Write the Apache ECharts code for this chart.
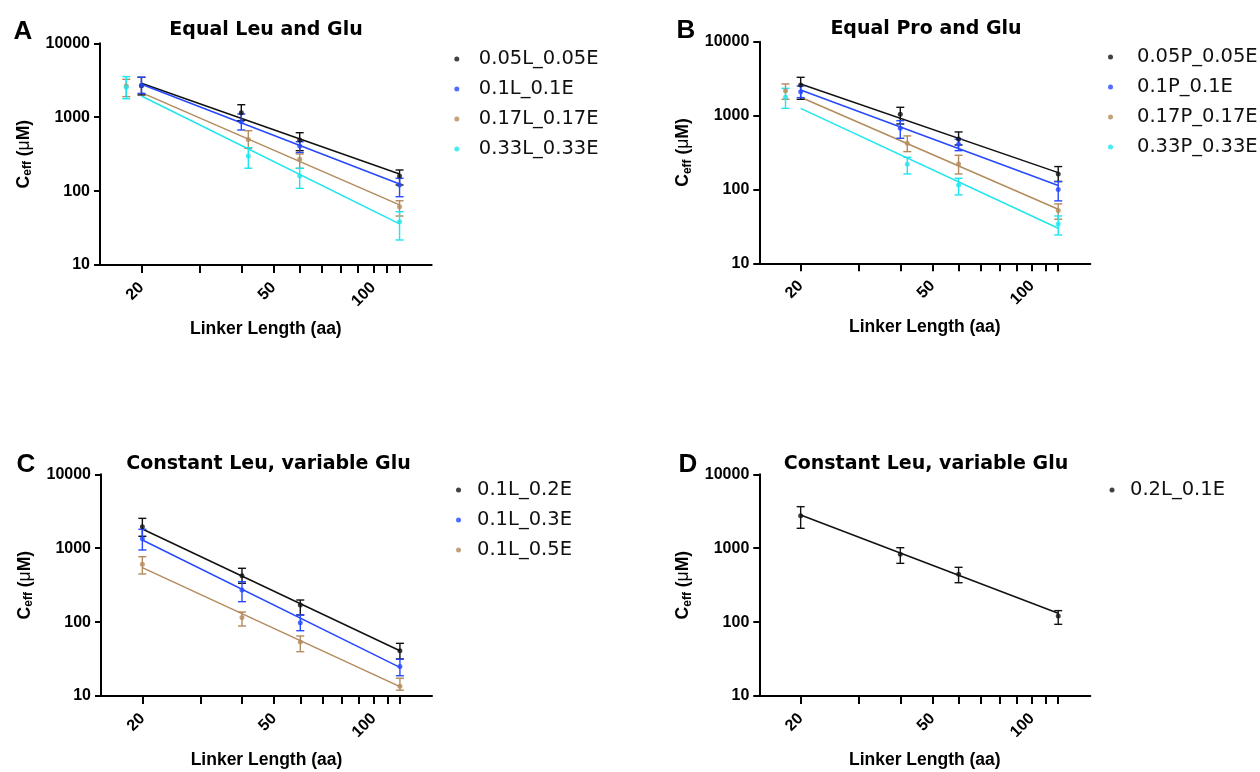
<!DOCTYPE html>
<html>
<head>
<meta charset="utf-8">
<script src="https://cdn.jsdelivr.net/npm/echarts@6/dist/echarts.min.js"></script>
<style>html,body{margin:0;padding:0;background:#fff;}#c{width:1260px;height:772px;}</style>
</head>
<body>
<div id="c"></div>
<script>
// ---------- DATA ----------
const xTicks = [20, 30, 40, 50, 60, 70, 80, 90, 100, 110, 120];
const xLabels = [20, 50, 100];
const fitX = [20, 120];

// Panel A: Equal Leu and Glu
const aNames = ['0.05L_0.05E', '0.1L_0.1E', '0.17L_0.17E', '0.33L_0.33E'];
const aX = [[20, 40, 60, 120], [20, 40, 60, 120], [18, 42, 60, 120], [18, 42, 60, 120]];
const aMean = [[2667, 1151, 491, 160], [2700, 870, 407, 121], [2643, 501, 269, 61.5], [2535, 298, 160, 38.5]];
const aHigh = [[3467, 1476, 617, 193], [3470, 1105, 466, 149], [3258, 656, 318, 74], [3545, 387, 204, 52.6]];
const aLow = [[2000, 898, 352, 121], [2100, 671, 331, 84], [1897, 379, 203, 46], [1778, 204, 109, 21.8]];
const aFitStart = [2877, 2786, 2148, 1936];
const aFitEnd = [170, 125, 65, 36];

// Panel B: Equal Pro and Glu
const bNames = ['0.05P_0.05E', '0.1P_0.1E', '0.17P_0.17E', '0.33P_0.33E'];
const bX = [[20, 40, 60, 120], [20, 40, 60, 120], [18, 42, 60, 120], [18, 42, 60, 120]];
const bMean = [[2594, 1040, 482, 162], [2105, 673, 409, 100], [2173, 422, 221, 51.7], [1768, 219, 115, 34]];
const bHigh = [[3296, 1294, 600, 204], [2512, 853, 478, 128], [2679, 530, 290, 63.7], [2340, 272, 141.6, 43.7]];
const bLow = [[1660, 769, 400, 128], [1750, 493, 335, 70], [1660, 325, 162, 39.5], [1253, 162, 84.3, 24.2]];
const bFitStart = [2679, 2220, 1768, 1253];
const bFitEnd = [169, 113, 54, 29.8];

// Panel C: Constant Leu, variable Glu
const cNames = ['0.1L_0.2E', '0.1L_0.3E', '0.1L_0.5E'];
const cX = [[20, 40, 60, 120], [20, 40, 60, 120], [20, 40, 60, 120]];
const cMean = [[1954, 425, 170, 41], [1345, 272, 98, 25], [605, 115, 53.8, 13.6]];
const cHigh = [[2535, 535, 199, 51.6], [1803, 352, 125, 31.4], [767, 137, 64.9, 17.4]];
const cLow = [[1450, 335, 125, 31.7], [946, 189, 76.5, 18.8], [448, 88.5, 39.8, 12]];
const cFitStart = [1820, 1291, 545];
const cFitEnd = [41, 24.4, 13.4];

// Panel D: Constant Leu, variable Glu
const dNames = ['0.2L_0.1E'];
const dX = [[20, 40, 60, 120]];
const dMean = [[2754, 826, 444, 121]];
const dHigh = [[3648, 1016, 551, 143]];
const dLow = [[1859, 624, 341, 93.3]];
const dFitStart = [2812];
const dFitEnd = [131.5];

const colors = ['#111111', '#2648ff', '#b38b5d', '#1de6ee'];
const panelTitles = ['Equal Leu and Glu', 'Equal Pro and Glu', 'Constant Leu, variable Glu', 'Constant Leu, variable Glu'];
const panelLetters = ['A', 'B', 'C', 'D'];

// ---------- LAYOUT ----------
const grids = [
  {left: 100, top: 43.3, width: 331.7, height: 221.7},
  {left: 759.3, top: 41.7, width: 331, height: 221.6},
  {left: 101, top: 474.3, width: 331, height: 221.7},
  {left: 759.3, top: 474.3, width: 331, height: 221.7}
];
const titlePos = [[261, 16], [921, 14.5], [263.5, 449.5], [921, 449.5]];
const letterPos = [[18, 14], [681, 13], [21, 447], [683, 447]];
const legendPos = [[454.3, 44, 34], [1108, 42, 43], [456, 475, 27], [1109.5, 475, 26]];

const panels = [
  {names: aNames, x: aX, mean: aMean, high: aHigh, low: aLow, fs: aFitStart, fe: aFitEnd},
  {names: bNames, x: bX, mean: bMean, high: bHigh, low: bLow, fs: bFitStart, fe: bFitEnd},
  {names: cNames, x: cX, mean: cMean, high: cHigh, low: cLow, fs: cFitStart, fe: cFitEnd},
  {names: dNames, x: dX, mean: dMean, high: dHigh, low: dLow, fs: dFitStart, fe: dFitEnd}
];

const axisFont = '"Liberation Sans", Arial, sans-serif';

function errRender(params, api) {
  const x = api.value(0), lo = api.value(1), hi = api.value(2);
  const p1 = api.coord([x, lo]);
  const p2 = api.coord([x, hi]);
  const w = 4;
  const style = {stroke: api.visual('color'), lineWidth: 1.4};
  return {
    type: 'group',
    children: [
      {type: 'line', shape: {x1: p1[0], y1: p1[1], x2: p2[0], y2: p2[1]}, style: style},
      {type: 'line', shape: {x1: p1[0] - w, y1: p1[1], x2: p1[0] + w, y2: p1[1]}, style: style},
      {type: 'line', shape: {x1: p2[0] - w, y1: p2[1], x2: p2[0] + w, y2: p2[1]}, style: style}
    ]
  };
}

const option = {
  animation: false,
  backgroundColor: '#ffffff',
  title: [],
  legend: [],
  grid: [],
  xAxis: [],
  yAxis: [],
  series: []
};

panels.forEach(function (p, gi) {
  option.grid.push(Object.assign({containLabel: false}, grids[gi]));
  option.title.push({
    text: panelTitles[gi], left: titlePos[gi][0], top: titlePos[gi][1], textAlign: 'center',
    textStyle: {fontFamily: '"DejaVu Sans", sans-serif', fontWeight: 'bold', fontSize: 19, color: '#000'}
  });
  option.title.push({
    text: panelLetters[gi], left: letterPos[gi][0], top: letterPos[gi][1], textAlign: 'center',
    textStyle: {fontFamily: axisFont, fontWeight: 'bold', fontSize: 26, color: '#000'}
  });
  option.legend.push({
    orient: 'vertical', left: legendPos[gi][0], top: legendPos[gi][1], padding: 0,
    itemWidth: legendPos[gi][2], itemHeight: 5, itemGap: 0, selectedMode: false,
    data: p.names.map(function (n) { return {name: n, icon: 'circle'}; }),
    textStyle: {fontFamily: '"DejaVu Sans", sans-serif', fontSize: 19.5, color: '#111', lineHeight: 30}
  });
  option.xAxis.push({
    type: 'log', logBase: 10, gridIndex: gi, min: 15, max: 150,
    name: 'Linker Length (aa)', nameLocation: 'middle', nameGap: 55,
    nameTextStyle: {fontFamily: axisFont, fontWeight: 'bold', fontSize: 17.5, color: '#000'},
    axisLine: {lineStyle: {color: '#000', width: 2}},
    axisTick: {customValues: xTicks, length: 8, lineStyle: {color: '#000', width: 2}},
    axisLabel: {customValues: xLabels, rotate: 45, margin: 20, fontFamily: axisFont, fontWeight: 'bold', fontSize: 16, color: '#000',
      formatter: function (v) { return String(v); }},
    splitLine: {show: false}
  });
  option.yAxis.push({
    type: 'log', logBase: 10, gridIndex: gi, min: 10, max: 10000,
    name: '{a|C}{b|eff}{a| (}{m|μ}{a|M)}', nameLocation: 'middle', nameGap: 66, nameRotate: 90,
    nameTextStyle: {
      rich: {
        a: {fontFamily: axisFont, fontWeight: 'bold', fontSize: 17.5, color: '#000'},
        b: {fontFamily: axisFont, fontWeight: 'bold', fontSize: 12, color: '#000', padding: [8, 0, 0, 0]},
        m: {fontFamily: axisFont, fontWeight: 'normal', fontSize: 17.5, color: '#000'}
      }
    },
    axisLine: {lineStyle: {color: '#000', width: 2}},
    axisTick: {length: 6, lineStyle: {color: '#000', width: 2}},
    axisLabel: {margin: 10, fontFamily: axisFont, fontWeight: 'bold', fontSize: 16, color: '#000',
      formatter: function (v) { return String(v); }},
    splitLine: {show: false}
  });
  p.names.forEach(function (name, si) {
    const col = colors[si];
    option.series.push({
      type: 'scatter', name: name, xAxisIndex: gi, yAxisIndex: gi,
      symbol: 'circle', symbolSize: 5, itemStyle: {color: col}, z: 5,
      data: p.x[si].map(function (xv, k) { return [xv, p.mean[si][k]]; })
    });
    option.series.push({
      type: 'line', name: name, xAxisIndex: gi, yAxisIndex: gi,
      showSymbol: false, symbol: 'none', itemStyle: {color: col}, lineStyle: {color: col, width: 1.5}, z: 3,
      data: [[fitX[0], p.fs[si]], [fitX[1], p.fe[si]]]
    });
    option.series.push({
      type: 'custom', name: name, xAxisIndex: gi, yAxisIndex: gi,
      itemStyle: {color: col}, z: 4,
      renderItem: errRender,
      encode: {x: 0, y: [1, 2]},
      data: p.x[si].map(function (xv, k) { return [xv, p.low[si][k], p.high[si][k]]; })
    });
  });
});

const chart = echarts.init(document.getElementById('c'), null, {renderer: 'canvas'});
chart.setOption(option);
</script>
</body>
</html>
